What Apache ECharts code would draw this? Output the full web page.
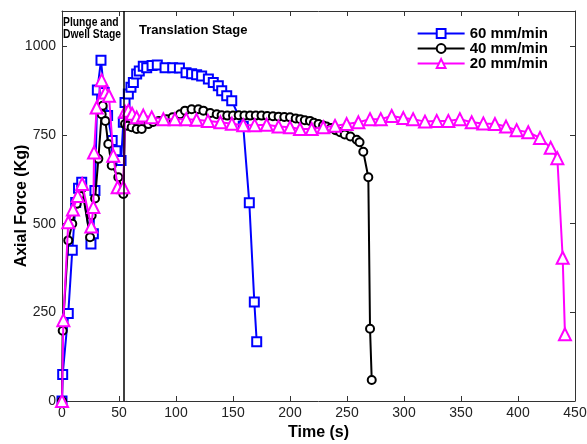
<!DOCTYPE html>
<html>
<head>
<meta charset="utf-8">
<script src="https://cdn.jsdelivr.net/npm/echarts@6/dist/echarts.min.js"></script>
<style>
  html, body { margin: 0; padding: 0; background: #fff; }
  #chart { width: 587px; height: 444px; }
</style>
</head>
<body>
<div id="chart"></div>
<script>
// Axis ticks
const timeTicks = [0, 50, 100, 150, 200, 250, 300, 350, 400, 450];
const forceTicks = [0, 250, 500, 750, 1000];

// Boundary between plunge/dwell and translation stages (s)
const stageBoundary = 54;

// 60 mm/min traverse speed
const time60 = [0, 0.6, 5.5, 9, 12, 14.5, 17.3, 25.4, 27.5, 28.9, 31, 34.2, 37, 40, 44, 47.4, 51.8,
  53.8, 55.3, 58.2, 60.5, 62.6, 65.5, 67.8, 71.3, 74.3, 79, 83.6, 90.4, 97.1, 103, 108.8, 113.7,
  118.1, 122.5, 128.4, 132.7, 137.1, 140.1, 144.5, 148.9, 159, 164.3, 168.7, 170.8];
const force60 = [0, 75, 247, 425, 560, 600, 617, 443, 472, 594, 877, 961, 870, 805, 735, 706, 678,
  786, 842, 866, 885, 898, 922, 931, 944, 940, 946, 948, 940, 940, 939, 926, 923,
  920, 917, 908, 898, 889, 875, 861, 847, 775, 559, 279, 167];

// 40 mm/min traverse speed
const time40 = [0, 0.6, 5.5, 9, 12.9, 15.5, 17.5, 24.6, 26, 29, 31.9, 34.8, 35.7, 38, 40.6, 43.6, 49.4,
  53.8, 55.3, 57.5, 61.1, 65.5, 69.9, 75.7, 80, 85, 91.8, 97, 103.5, 107.9, 113.7, 119.6, 124, 130,
  135.7, 140, 145, 150, 155, 160, 165, 170, 175, 180, 185, 190, 195, 200, 205, 209, 213, 217.5,
  221, 225, 229, 232, 236, 240, 244, 248, 253, 258.5, 261, 264.3, 268.7, 270.2, 271.7];
const force40 = [0, 198, 453, 500, 556, 580, 600, 462, 523, 571, 683, 809, 833, 790, 725, 664, 631,
  584, 781, 776, 772, 767, 767, 781, 787, 790, 795, 800, 809, 819, 823, 823, 819, 812,
  809, 806, 805, 805, 806, 805, 805, 805, 805, 804, 803, 802, 801, 800, 797, 795, 792, 790,
  785, 781, 777, 774, 770, 764, 758, 752, 746, 737, 730, 703, 631, 204, 59];

// 20 mm/min traverse speed
const time20 = [0, 1.2, 5.5, 9.6, 13.8, 17.7, 25.7, 27.5, 28.1, 30.4, 34.8, 38, 41.2, 45, 48.8,
  53.8, 55.3, 58.2, 61.5, 65.5, 71.3, 78.7, 88.9, 99, 109, 118, 128, 139, 149, 159, 169, 179.5,
  190, 200, 208.8, 219, 229.2, 239.5, 249.7, 260, 270.2, 279.6, 289.2, 299.4, 308, 318.4, 328.7,
  338.9, 349, 359.4, 369.6, 379.8, 389.5, 398.8, 409, 419.3, 428.7, 434.5, 439.2, 441.2];
const force20 = [0, 228, 504, 540, 578, 612, 492, 547, 701, 828, 905, 870, 861, 692, 603,
  603, 816, 819, 810, 800, 805, 800, 795, 795, 795, 793, 790, 786, 782, 778, 778, 779,
  774, 772, 767, 767, 772, 776, 781, 786, 795, 795, 804, 798, 795, 788, 790,
  790, 795, 786, 783, 781, 774, 764, 758, 742, 714, 685, 404, 188];

const seriesNames = ['60 mm/min', '40 mm/min', '20 mm/min'];
const seriesColors = ['#0000ff', '#000000', '#ff00ff'];

const zip = (xs, ys) => xs.map((x, i) => [x, ys[i]]);

const axisColor = '#333333';
const labelFont = { fontFamily: 'Liberation Sans', fontSize: 14, color: '#222222' };
const nameFont = { fontFamily: 'Liberation Sans', fontSize: 16, fontWeight: 'bold', color: '#000000' };

function lineSeries(name, color, data, symbol, size, z) {
  return {
    name: name,
    type: 'line',
    data: data,
    symbol: symbol,
    symbolSize: size,
    showAllSymbol: true,
    z: z,
    lineStyle: { color: color, width: 2 },
    itemStyle: { color: '#ffffff', borderColor: color, borderWidth: 2 },
    emphasis: { disabled: true }
  };
}

const chart = echarts.init(document.getElementById('chart'), null, { renderer: 'canvas' });

const s60 = lineSeries(seriesNames[0], seriesColors[0], zip(time60, force60), 'rect', 9, 2);
s60.markLine = {
  silent: true,
  symbol: 'none',
  label: { show: false },
  lineStyle: { color: '#000000', width: 1.5, type: 'solid' },
  data: [{ xAxis: stageBoundary }]
};
const s40 = lineSeries(seriesNames[1], seriesColors[1], zip(time40, force40), 'circle', 8, 3);
const s20 = lineSeries(seriesNames[2], seriesColors[2], zip(time20, force20), 'triangle', 12, 4);

chart.setOption({
  animation: false,
  backgroundColor: '#ffffff',
  grid: { left: 62, right: 12, top: 11, bottom: 43, show: false, outerBoundsMode: 'none' },
  legend: {
    data: seriesNames,
    orient: 'vertical',
    right: 34,
    top: 21,
    itemWidth: 47,
    itemHeight: 11,
    itemGap: 0,
    textStyle: { fontFamily: 'Liberation Sans', fontSize: 15, fontWeight: 'bold', color: '#000000' }
  },
  xAxis: [
    {
      type: 'value', min: timeTicks[0], max: timeTicks[timeTicks.length - 1], interval: 50,
      name: 'Time (s)', nameLocation: 'middle', nameGap: 24, nameMoveOverlap: false, nameTextStyle: nameFont,
      axisLine: { onZero: false, lineStyle: { color: axisColor, width: 1 } },
      axisTick: { inside: true, length: 5, lineStyle: { color: axisColor } },
      axisLabel: Object.assign({ margin: 5 }, labelFont),
      splitLine: { show: false }
    },
    {
      type: 'value', position: 'top', min: timeTicks[0], max: timeTicks[timeTicks.length - 1], interval: 50,
      axisLine: { onZero: false, lineStyle: { color: axisColor, width: 1 } },
      axisTick: { inside: true, length: 5, lineStyle: { color: axisColor } },
      axisLabel: { show: false },
      splitLine: { show: false }
    }
  ],
  yAxis: [
    {
      type: 'value', min: 0, max: 1100, interval: 250,
      name: 'Axial Force (Kg)', nameLocation: 'middle', nameGap: 32, nameMoveOverlap: false, nameTextStyle: nameFont,
      axisLine: { onZero: false, lineStyle: { color: axisColor, width: 1 } },
      axisTick: { inside: true, length: 5, lineStyle: { color: axisColor } },
      axisLabel: Object.assign({
        margin: 6,
        formatter: v => (forceTicks.indexOf(v) >= 0 ? String(v) : '')
      }, labelFont),
      splitLine: { show: false }
    },
    {
      type: 'value', position: 'right', min: 0, max: 1100, interval: 250,
      axisLine: { onZero: false, lineStyle: { color: axisColor, width: 1 } },
      axisTick: { inside: true, length: 5, lineStyle: { color: axisColor } },
      axisLabel: { show: false },
      splitLine: { show: false }
    }
  ],
  graphic: [
    {
      type: 'text', x: 63, y: 17, scaleX: 0.86,
      style: {
        text: 'Plunge and\nDwell Stage',
        font: 'bold 12px "Liberation Sans"',
        lineHeight: 12, fill: '#000000'
      }
    },
    {
      type: 'text', left: 139, top: 24,
      style: {
        text: 'Translation Stage',
        font: 'bold 13px "Liberation Sans"',
        fill: '#000000'
      }
    }
  ],
  series: [s60, s40, s20]
});
</script>
</body>
</html>
